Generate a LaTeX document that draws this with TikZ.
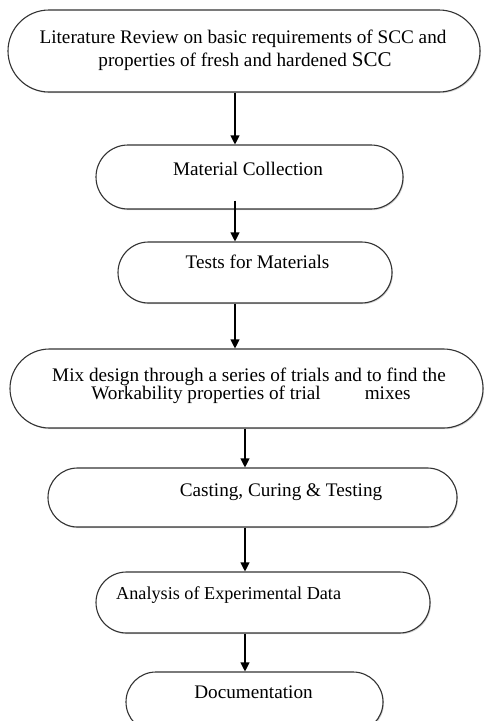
\documentclass[tikz,border=0pt]{standalone}
\usepackage{fontspec}
\setmainfont{Liberation Serif}
\usetikzlibrary{arrows.meta,shadows}
\begin{document}
\begin{tikzpicture}[x=1pt,y=-1pt,
  box/.style={draw=black!80, line width=1.1pt, fill=white, inner sep=0pt,
    drop shadow={shadow xshift=1pt, shadow yshift=-1.2pt, opacity=0.35}},
  txt/.style={inner sep=0pt, anchor=base, font=\fontsize{19.2}{22}\selectfont, text=black},
  arr/.style={draw=black, line width=1.1pt, -{Triangle[length=9pt,width=9pt]}}
]
\useasboundingbox (0,0) rectangle (487,721);
\clip (0,0) rectangle (487,721);
\coordinate (xa) at (235,0);
\coordinate (xb) at (245,0);

\node[box, minimum width=472pt, minimum height=82pt, rounded corners=41pt] (b1) at (244,51) {};
\node[box, minimum width=307pt, minimum height=64pt, rounded corners=32pt] (b2) at (249.5,177) {};
\node[box, minimum width=274pt, minimum height=61pt, rounded corners=30.5pt] (b3) at (255,272.5) {};
\node[box, minimum width=473pt, minimum height=79pt, rounded corners=39.5pt] (b4) at (246.5,388.5) {};
\node[box, minimum width=409pt, minimum height=59pt, rounded corners=29.5pt] (b5) at (252.5,497.5) {};
\node[box, minimum width=334pt, minimum height=61pt, rounded corners=30.5pt] (b6) at (263,602.5) {};
\node[box, minimum width=257pt, minimum height=60pt, rounded corners=30pt] (b7) at (254.5,702) {};

\node[txt] (t1a) at (243,43) {Literature Review on basic requirements of SCC and};
\node[txt] (t1b) at (245,66) {properties of fresh and hardened\hspace{5pt}{\fontsize{21}{22}\selectfont SCC}};
\node[txt] (t2) at (248,175) {Material Collection};
\node[txt] (t3) at (257.5,268) {Tests for Materials};
\node[txt] (t4a) at (249,381) {Mix design through a series of trials and to find the};
\node[txt] (t4b) at (251,399) {Workability properties of trial\hspace{44pt}mixes};
\node[txt] (t5) at (281,496) {Casting, Curing \& Testing};
\node[txt, anchor=base west, font=\fontsize{18.2}{22}\selectfont] (t6) at (116,599) {Analysis of Experimental Data};
\node[txt] (t7) at (253.5,698) {Documentation};

\draw[arr] (b1.south -| xa) -- (b2.north -| xa);
\draw[arr] ([yshift=9pt]b2.south -| xa) -- (b3.north -| xa);
\draw[arr] (b3.south -| xa) -- (b4.north -| xa);
\draw[arr] (b4.south -| xb) -- (b5.north -| xb);
\draw[arr] (b5.south -| xb) -- (b6.north -| xb);
\draw[arr] (b6.south -| xb) -- (b7.north -| xb);
\end{tikzpicture}
\end{document}
